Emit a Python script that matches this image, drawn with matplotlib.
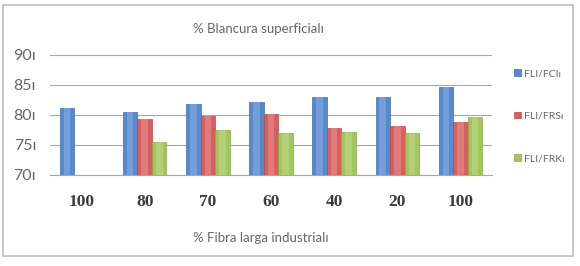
import numpy as np
import matplotlib
matplotlib.use('Agg')
import matplotlib.pyplot as plt
from matplotlib.patches import Rectangle

# datos
categorias = ['100', '80', '70', '60', '40', '20', '100']
fli_fci = [81.2, 80.5, 81.8, 82.2, 83.0, 83.0, 84.7]
fli_frs = [np.nan, 79.3, 79.9, 80.1, 77.8, 78.2, 78.8]
fli_frk = [np.nan, 75.5, 77.5, 77.0, 77.2, 77.0, 79.7]
series = ['FLI/FCIı', 'FLI/FRSı', 'FLI/FRKı']
yticks = [70, 75, 80, 85, 90]

colores = ['#5689cf', '#d95f5f', '#a3c65c']
bordes = ['#3f6fb0', '#b84848', '#86a844']

fig = plt.figure(figsize=(5.8, 2.66), dpi=100)
ax = fig.add_axes([50/580, 1-175/266, 442/580, 120/266])

# marco exterior
fig.patches.append(Rectangle((3/580, 1-256/266), 570/580, 251/266, transform=fig.transFigure,
                             fill=False, edgecolor='#bdbdbd', linewidth=1.2))

x = np.arange(len(categorias))
w = 0.23
for i, vals in enumerate([fli_fci, fli_frs, fli_frk]):
    v = np.array(vals)
    ax.bar(x + (i-1)*w, v - 70, bottom=70, width=w, color=colores[i], edgecolor=bordes[i],
           linewidth=0.5, label=series[i], zorder=3)
    # brillo central
    ax.bar(x + (i-1)*w, v - 70, bottom=70, width=w*0.45, color='white', alpha=0.18,
           linewidth=0, zorder=4)

ax.set_xlim(-0.5, len(categorias)-0.5)
ax.set_ylim(70, 90)
ax.set_yticks(yticks)
ax.set_yticklabels([f'{t}ı' for t in yticks], fontfamily='Lato', fontsize=11.5, color='#666666')
ax.set_xticks(x)
ax.set_xticklabels(categorias, fontfamily='Liberation Serif', fontsize=12.5, fontweight='bold',
                   color='#3a3a3a')
ax.tick_params(axis='both', length=0)
ax.tick_params(axis='x', pad=14)
ax.tick_params(axis='y', pad=10)
ax.grid(axis='y', color='#a6a6a6', linewidth=0.8, zorder=0)
for s in ['left', 'right', 'top']:
    ax.spines[s].set_visible(False)
ax.spines['bottom'].set_color('#a6a6a6')

fig.text(258/580, 1-29/266, '% Blancura superficialı', ha='center', va='center',
         fontfamily='Lato', fontsize=9.5, color='#666666')
fig.text(261/580, 1-238/266, '% Fibra larga industrialı', ha='center', va='center',
         fontfamily='Lato', fontsize=9.5, color='#666666')

ax.legend(loc='upper left', bbox_to_anchor=(505/580, 1-60/266), bbox_transform=fig.transFigure,
          frameon=False, handlelength=0.6, handleheight=0.6, handletextpad=0.3,
          labelspacing=3.2, prop={'family': 'Lato', 'size': 7.5}, labelcolor='#666666')

fig.savefig('out.png', dpi=100)
